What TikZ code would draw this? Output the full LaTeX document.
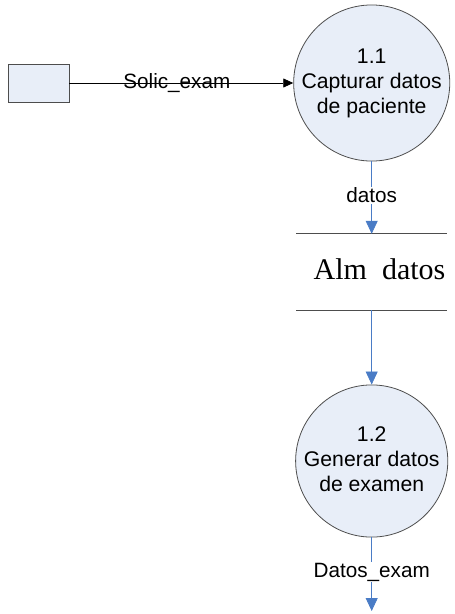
\documentclass[tikz,border=0pt]{standalone}
\usepackage{fontspec}
\setmainfont{Liberation Sans}
\newfontfamily\storefont{Liberation Serif}
\usetikzlibrary{arrows.meta}
\definecolor{procfill}{HTML}{E8EEF8}
\definecolor{flowblue}{HTML}{4A7CC6}
\definecolor{edgegray}{HTML}{4D4D4D}
\tikzset{
  proc/.style={circle, draw=edgegray, line width=0.8pt, fill=procfill,
    minimum size=150pt, inner sep=0pt, align=center,
    font=\fontsize{21.2}{25}\selectfont},
  entity/.style={rectangle, draw=edgegray, line width=0.8pt, fill=procfill,
    minimum width=61pt, minimum height=38pt, inner sep=0pt},
  storebox/.style={rectangle, minimum width=151pt, minimum height=76pt, inner sep=0pt},
  storeline/.style={draw=edgegray, line width=0.8pt},
  inflow/.style={draw=black, line width=0.8pt, -{Triangle[length=10pt,width=9pt]}},
  bflow/.style={draw=flowblue, line width=0.8pt, -{Triangle[length=13pt,width=12pt]}},
  flowlabel/.style={font=\fontsize{20.7}{25}\selectfont, inner sep=1pt},
}
\begin{document}
\begin{tikzpicture}[x=1pt, y=-1pt]
  \useasboundingbox (0,0) rectangle (455,614);

  % external entity and the first process
  \node[entity] (ext) at (38.5,83) {};
  \node[proc] (p1) at (371.7,83) {1.1\\Capturar datos\\de paciente};

  % data store drawn as two horizontal lines
  \node[storebox] (store) at (371.7,272) {};
  \draw[storeline] (store.north west) -- (store.north east);
  \draw[storeline] (store.south west) -- (store.south east);
  \node[anchor=base, inner sep=0pt, font=\storefont\fontsize{30}{31}\selectfont]
    (storename) at (379.5,279) {Alm\ \ datos};

  % second process
  \node[proc] (p2) at (371.7,461) {1.2\\Generar datos\\de examen\vphantom{p}};
  \coordinate (out) at (371.7,611);

  % data flows
  \draw[inflow] (ext.east) -- (p1.west)
    node[flowlabel, pos=0.48] (l1) {Solic\_exam};
  \draw[bflow] (p1.south) -- (store.north)
    node[flowlabel, fill=white, pos=0.47] (l2) {datos};
  \draw[bflow] (store.south) -- (p2.north);
  \draw[bflow] (p2.south) -- (out)
    node[flowlabel, fill=white, pos=0.47] (l3) {Datos\_exam};
\end{tikzpicture}
\end{document}
